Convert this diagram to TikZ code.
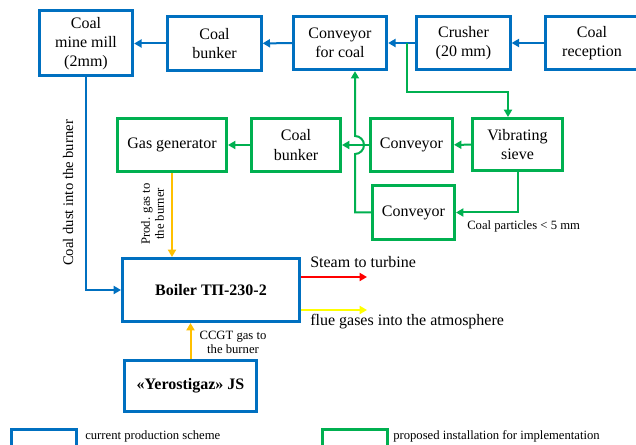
\documentclass[tikz,border=0pt]{standalone}
\usepackage{fontspec}
\setmainfont{Liberation Serif}
\usepackage{xcolor}
\usepackage{tikz}
\usetikzlibrary{arrows.meta, positioning, calc}

\definecolor{schemeblue}{RGB}{0,112,192}
\definecolor{schemegreen}{RGB}{0,176,80}
\definecolor{gasgold}{RGB}{255,192,0}
\definecolor{fluegold}{RGB}{255,255,0}

\begin{document}
\begin{tikzpicture}[x=0.75pt, y=-0.75pt, font=\fontsize{12}{14.5}\selectfont]
    \tikzstyle{box} = [rectangle, draw=schemeblue, line width=2.25pt, fill=white, align=center, inner sep=2pt, minimum width=70pt, minimum height=40pt]
    \tikzstyle{newbox} = [box, draw=schemegreen]
    \tikzstyle{arrow} = [line width=1.5pt, draw=schemeblue, ->, >={Triangle[length=5.5pt, width=6pt]}]
    \tikzstyle{garrow} = [arrow, draw=schemegreen]
    \tikzstyle{note} = [font=\fontsize{9.5}{10.5}\selectfont, align=center, inner sep=0pt]

    \useasboundingbox (0,0) rectangle (636,445);

    % current production scheme
    \node (mill) [box, minimum height=48.75pt] at (86,43.5) {Coal\\mine mill\\(2mm)};
    \node (bunkA) [box] at (214.5,43.5) {Coal\\bunker};
    \node (convcoal) [box] at (340,43) {Conveyor\\for coal};
    \node (crusher) [box] at (463.5,43) {Crusher\\(20 mm)};
    \node (reception) [box] at (592,43) {Coal\\reception};
    \node (boiler) [box, minimum width=132.75pt, minimum height=47.25pt, font=\fontsize{12}{14.5}\selectfont\bfseries] at (211,290) {Boiler ТП-230-2};
    \node (yero) [box, minimum width=99pt, minimum height=38.25pt, font=\fontsize{12}{14.5}\selectfont\bfseries] at (190.5,386) {«Yerostigaz» JS};

    % proposed installation
    \node (gasgen) [newbox, minimum width=81.75pt] at (172,145) {Gas generator};
    \node (bunkB) [newbox, minimum width=66.75pt] at (296,145) {Coal\\bunker};
    \node (conv1) [newbox, minimum width=61.5pt] at (411.5,145) {Conveyor};
    \node (sieve) [newbox, minimum width=67.5pt, minimum height=39pt] at (517.5,144.5) {Vibrating\\sieve};
    \node (conv2) [newbox, minimum width=61.5pt, minimum height=40.5pt] at (413.5,212.5) {Conveyor};

    \coordinate (split) at (407,43);
    \coordinate (sievein) at (508,92);
    \coordinate (hop) at (355,145);
    \coordinate (hopbot) at (355,154);
    \coordinate (steamend) at (367,277);
    \coordinate (flueend) at (367,310);

    \draw [arrow] (reception) -- (crusher);
    \draw [arrow] (crusher) -- (convcoal);
    \draw [arrow] (convcoal) -- (bunkA);
    \draw [arrow] (bunkA) -- (mill);
    \draw [arrow] (mill.south) |- (boiler.west);

    \draw [garrow] (split) |- (sievein) -- (sievein |- sieve.north);
    \draw [garrow] (sieve) -- (conv1);
    \draw [garrow] (conv1) -- (bunkB);
    \draw [garrow] (bunkB) -- (gasgen);
    \draw [garrow] (sieve.south) |- (conv2.east);
    \draw [garrow] (conv2.west) -| (hopbot) arc[start angle=90, end angle=-90, radius=9] -- (hop |- convcoal.south);

    \draw [arrow, draw=gasgold] (gasgen.south) -- (gasgen.south |- boiler.north);
    \draw [arrow, draw=gasgold] (yero.north) -- (yero.north |- boiler.south);
    \draw [arrow, draw=red] (boiler.east |- steamend) -- (steamend);
    \draw [arrow, draw=fluegold] (boiler.east |- flueend) -- (flueend);

    % labels
    \node (dustlbl) [font=\fontsize{11}{12}\selectfont, rotate=90] at (68,193) {Coal dust into the burner};
    \node (prodlbl) [note, rotate=90] at (152.5,214) {Prod. gas to\\the burner};
    \node (ccgtlbl) [note] at (233,342) {CCGT gas to\\the burner};
    \node (partlbl) [note, anchor=west] at (467,226) {Coal particles < 5 mm};
    \node (steamlbl) [anchor=west, inner sep=0pt] at (310,262) {Steam to turbine};
    \node (fluelbl) [anchor=west, inner sep=0pt] at (310,322) {flue gases into the atmosphere};

    % legend
    \node (legcur) [box, minimum width=48.75pt, minimum height=20pt] at (44,443) {};
    \node (legnew) [newbox, minimum width=48.75pt, minimum height=20pt] at (354.5,443) {};
    \node (curlbl) [note, anchor=west] at (85,436) {current production scheme};
    \node (newlbl) [note, anchor=west] at (393,436) {proposed installation for implementation};
\end{tikzpicture}
\end{document}
